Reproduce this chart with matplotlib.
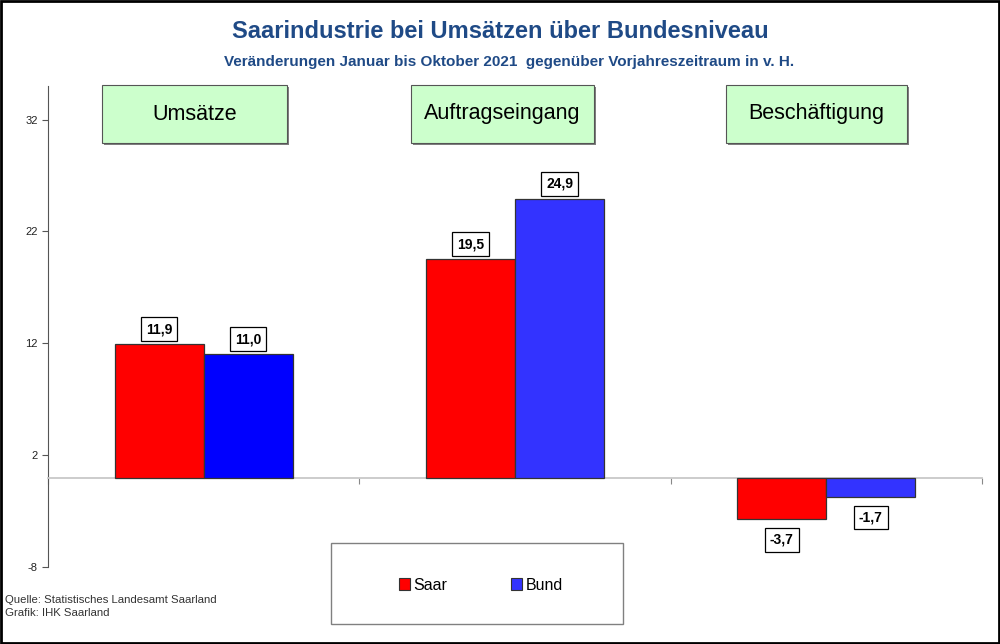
import matplotlib.pyplot as plt
from matplotlib.patches import Rectangle, Patch

plt.rcParams['font.family'] = ['Liberation Sans', 'DejaVu Sans']
plt.rcParams['axes.unicode_minus'] = False

categories = ['Umsätze', 'Auftragseingang', 'Beschäftigung']
saar = [11.9, 19.5, -3.7]
bund = [11.0, 24.9, -1.7]
yticks = [-8, 2, 12, 22, 32]

red = '#FF0000'
blues = ['#0000FF', '#3333FF', '#3333FF']
title_col = '#1F4A86'

W, H = 1000, 644
fig = plt.figure(figsize=(10, 6.44), dpi=100)


def px(x, y):
    # pixel coords (top-left origin) -> figure fraction
    return x / W, 1 - y / H


# outer frame
fig.patches.append(Rectangle((0.001, 0.0015), 0.998, 0.997, transform=fig.transFigure,
                             fill=False, ec='black', lw=2))

ax = fig.add_axes([48 / W, 1 - 567 / H, (982 - 48) / W, (567 - 86) / H])
w = 0.286
x = [i + 0.5 for i in range(len(categories))]
ax.bar([xi - w / 2 for xi in x], saar, width=w, color=red, ec='#333333', lw=0.9, zorder=3)
ax.bar([xi + w / 2 for xi in x], bund, width=w, color=blues, ec='#333333', lw=0.9, zorder=3)

ax.set_xlim(0, 3)
ax.set_ylim(-8, 35)
ax.set_yticks(yticks)
ax.set_xticks([0, 1, 2, 3])
ax.set_xticklabels([])
ax.spines['top'].set_visible(False)
ax.spines['right'].set_visible(False)
ax.spines['bottom'].set_position(('data', 0))
ax.spines['bottom'].set_color('#c8c8c8')
ax.spines['bottom'].set_linewidth(1.3)
ax.spines['left'].set_color('#555555')
ax.tick_params(axis='x', length=4, color='#888888', direction='out')
ax.tick_params(axis='y', length=4, color='#555555', labelsize=8, labelcolor='#222222')

bbox = dict(boxstyle='square,pad=0.35', fc='white', ec='black', lw=0.9)
for i in range(len(categories)):
    for xv, v in [(x[i] - w / 2, saar[i]), (x[i] + w / 2, bund[i])]:
        off = 11 if v >= 0 else -15
        ax.annotate(f'{v:.1f}'.replace('.', ','), (xv, v), xytext=(0, off),
                    textcoords='offset points', ha='center', va='center',
                    fontsize=10, fontweight='bold', bbox=bbox, zorder=5)

# category boxes
box_x = [102, 411, 726]
box_w = [185, 183, 181]
for lab, bx, bw in zip(categories, box_x, box_w):
    fx, fy = px(bx, 143)
    sx, sy = px(bx + 2, 145)
    fig.patches.append(Rectangle((sx, sy), bw / W, 58 / H, transform=fig.transFigure,
                                 fc='#808080', ec='none'))
    fig.patches.append(Rectangle((fx, fy), bw / W, 58 / H, transform=fig.transFigure,
                                 fc='#CCFFCC', ec='#555555', lw=0.8))
    cx, cy = px(bx + bw / 2, 114)
    fig.text(cx, cy, lab, ha='center', va='center', fontsize=15.5, color='black')

# titles
fig.text(*px(500, 32), 'Saarindustrie bei Umsätzen über Bundesniveau', ha='center',
         va='center', fontsize=17, fontweight='bold', color=title_col)
fig.text(*px(509, 62), 'Veränderungen Januar bis Oktober 2021  gegenüber Vorjahreszeitraum in v. H.',
         ha='center', va='center', fontsize=11, fontweight='bold', color=title_col)

# legend
lx, ly = px(331, 624)
fig.patches.append(Rectangle((lx, ly), 292 / W, 81 / H, transform=fig.transFigure,
                             fc='white', ec='#808080', lw=1))
handles = [Patch(fc=red, ec='#333333', lw=0.8), Patch(fc='#3333FF', ec='#333333', lw=0.8)]
fig.legend(handles, ['Saar', 'Bund'], loc='center', bbox_to_anchor=px(481, 585), ncol=2,
           frameon=False, fontsize=11.5, handlelength=0.7, handleheight=0.7,
           handletextpad=0.2, columnspacing=4.0)

# source
fig.text(*px(5, 600), 'Quelle: Statistisches Landesamt Saarland', ha='left', va='center',
         fontsize=8.2, color='#333333')
fig.text(*px(5, 613), 'Grafik: IHK Saarland', ha='left', va='center', fontsize=8.2, color='#333333')

fig.savefig('out.png', dpi=100)
